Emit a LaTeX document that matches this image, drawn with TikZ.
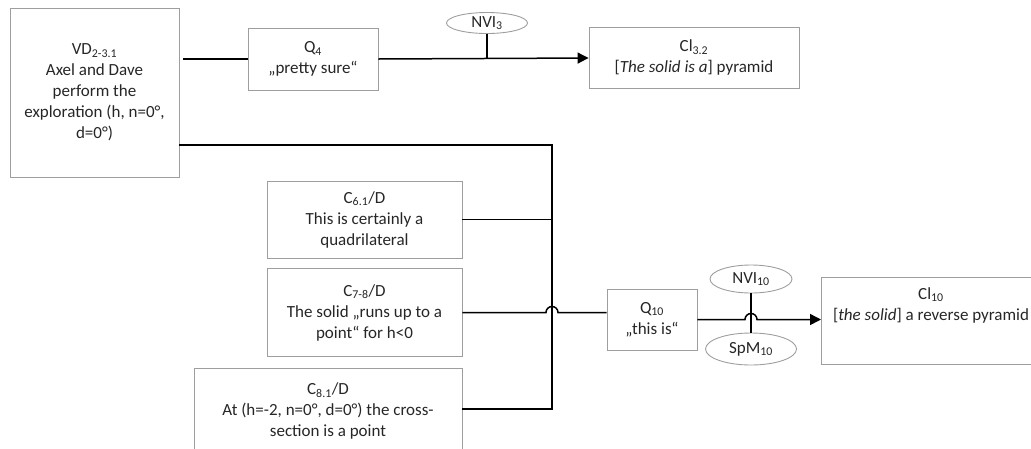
\documentclass[tikz,border=0pt]{standalone}
\usepackage{fontspec}
\setmainfont{Carlito}
\usetikzlibrary{calc,arrows.meta,shapes.geometric}
\tikzset{
  box/.style={draw=black!38, line width=0.9pt, rectangle, align=center, inner sep=0pt, text=black!85},
  oval/.style={draw=black!38, line width=0.9pt, ellipse, inner sep=0pt, text=black!85},
  conn/.style={draw=black, line width=1.5pt},
  arr/.style={conn, -{Triangle[length=11pt,width=11pt]}},
}
\newcommand{\sub}[1]{\textsubscript{#1}}
\begin{document}
\begin{tikzpicture}[x=1pt,y=-1pt, font=\fontsize{17}{21}\selectfont]
\useasboundingbox (0,0) rectangle (1031,448);
% boxes
\node[box, minimum width=169pt, minimum height=169pt] (VD) at (94.5,92.5) {VD\sub{2-3.1}\\Axel and Dave\\perform the\\exploration (h, n=0°,\\d=0°)};
\node[box, minimum width=130pt, minimum height=62pt] (Q4) at (313,59) {Q\sub{4}\\„pretty sure“};
\node[box, minimum width=210pt, minimum height=61pt] (CI32) at (694,57.5) {Cl\sub{3.2}\\{[}\textit{The solid is a}{]} pyramid};
\node[oval, minimum width=81pt, minimum height=21pt] (NVI3) at (487,23) {NVI\sub{3}};
\node[box, minimum width=195pt, minimum height=77pt] (C61) at (364.5,219.5) {C\sub{6.1}/D\\This is certainly a\\quadrilateral};
\node[box, minimum width=195pt, minimum height=88pt] (C78) at (364.5,312.5) {C\sub{7-8}/D\\The solid „runs up to a\\point“ for h<0};
\node[box, minimum width=268pt, minimum height=86pt] (C81) at (328,411) {C\sub{8.1}/D\\At (h=-2, n=0°, d=0°) the cross-\\section is a point};
\node[box, minimum width=90pt, minimum height=61pt] (Q10) at (652,319.5) {Q\sub{10}\\„this is“};
\node[box, minimum width=220pt, minimum height=87pt, anchor=west] (CI10) at (821,320.5) {};
\node[text=black!85, align=center, anchor=north] (CI10t) at (931,284) {Cl\sub{10}\\{[}\textit{the solid}{]} a reverse pyramid};
\node[oval, minimum width=82pt, minimum height=28pt] (NVI10) at (751,279) {NVI\sub{10}};
\node[oval, minimum width=91pt, minimum height=32pt] (SpM10) at (751,349) {SpM\sub{10}};
% bus
\coordinate (busTop) at (552,145);
\coordinate (busBot) at (552,409);
% connectors
\draw[conn] ([xshift=4pt]VD.east |- Q4.west) -- (Q4.west |- Q4.west);
\draw[arr] (Q4.east) -- ([yshift=1pt]Q4.east -| CI32.west);
\draw[conn] (NVI3.south) -- ([yshift=1pt]NVI3.south |- Q4.east);
\draw[conn] (VD.east |- busTop) -- (busTop) -- (busBot) -- (C81.east |- busBot);
\draw[conn] (C61.east) -- (C61.east -| busTop);
\draw[conn] (C78.east) -- ($(C78.east -| busTop)+(-6,0)$) arc[start angle=180, end angle=360, radius=6] -- (C78.east -| Q10.west);
\draw[conn] (NVI10.south) -- (SpM10.north);
\draw[arr] (Q10.east) -- ($(Q10.east -| NVI10.south)+(-6,0)$) arc[start angle=180, end angle=360, radius=6] -- (Q10.east -| CI10.west);
\end{tikzpicture}
\end{document}
